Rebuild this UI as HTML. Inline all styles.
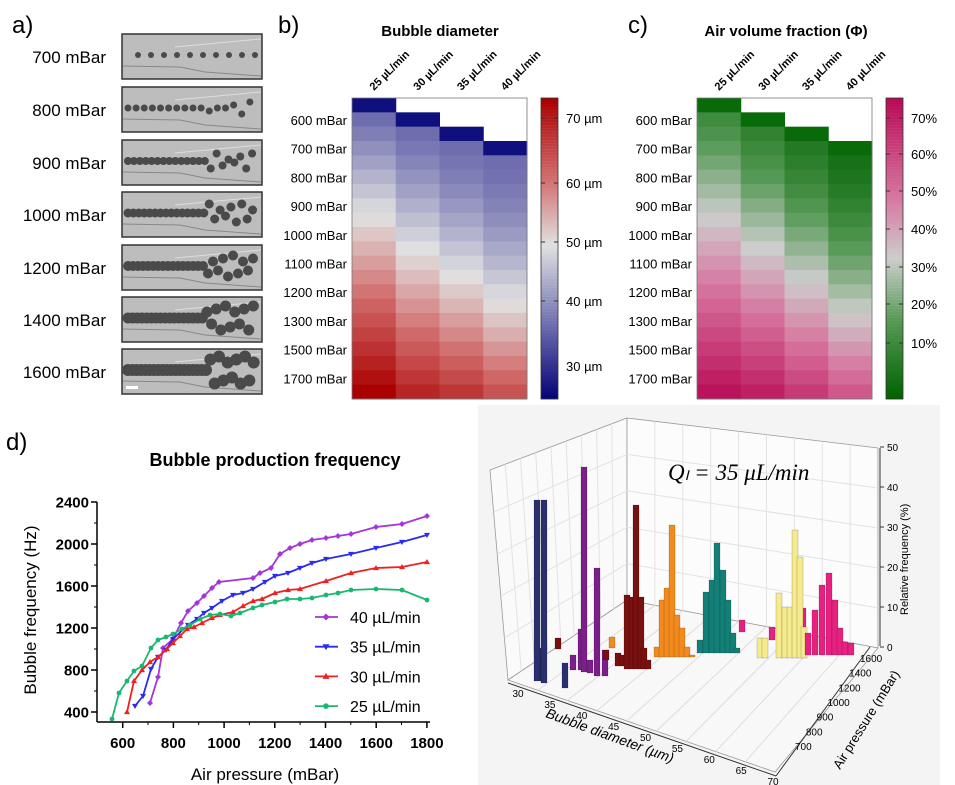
<!DOCTYPE html>
<html><head><meta charset="utf-8"><style>
html,body{margin:0;padding:0;background:#fff;}
svg{display:block;font-family:"Liberation Sans",sans-serif;}
</style></head><body>
<svg id="s" width="955" height="785" viewBox="0 0 955 785" xmlns="http://www.w3.org/2000/svg">
<rect width="955" height="785" fill="#fff"/>
<text x="12" y="33" font-size="24">a)</text>
<text x="278" y="33" font-size="24">b)</text>
<text x="628" y="33" font-size="24">c)</text>
<text x="6" y="450" font-size="24">d)</text>
<text x="484" y="446" font-size="24">e)</text>
<g id="pa"></g>
<g id="pb"></g>
<g id="pc"></g>
<g id="pd"></g>
<g id="pe"></g>
</svg>
<script>
const NS="http://www.w3.org/2000/svg";
function el(p,t,a,txt){const e=document.createElementNS(NS,t);for(const k in a)e.setAttribute(k,a[k]);if(txt!==undefined)e.textContent=txt;p.appendChild(e);return e;}
function lerp(a,b,t){return a+(b-a)*t;}
function grad(stops,v){
 if(v<=stops[0][0])return stops[0][1];
 for(let i=1;i<stops.length;i++){if(v<=stops[i][0]){const t=(v-stops[i-1][0])/(stops[i][0]-stops[i-1][0]);const a=stops[i-1][1],b=stops[i][1];return [0,1,2].map(j=>Math.round(lerp(a[j],b[j],t)));}}
 return stops[stops.length-1][1];}
function rgb(c){return `rgb(${c[0]},${c[1]},${c[2]})`;}
// Panel a
const pa=document.getElementById('pa');
const lab=["700 mBar","800 mBar","900 mBar","1000 mBar","1200 mBar","1400 mBar","1600 mBar"];
const ys=[34,87,140,192,245,297,349];
lab.forEach((l,i)=>{
 const y=ys[i];
 el(pa,'text',{x:106,y:y+29,'text-anchor':'end','font-size':17},l);
 el(pa,'rect',{x:122,y:y,width:140,height:45,fill:'#bdbdbd',stroke:'#333','stroke-width':1.5});
 el(pa,'path',{d:`M123 ${y+32} L180 ${y+33} L205 ${y+38} L261 ${y+42}`,stroke:'#888',fill:'none'});
 el(pa,'path',{d:`M175 ${y+13} L261 ${y+5}`,stroke:'#ddd',fill:'none'});
 const n=[10,16,22,24,26,28,30][i];
 for(let k=0;k<n;k++){
  const f=k/n; let x=128+k*(130/n)+ (i==0?10:0); let r=[3,3.5,4,4.5,5,5.5,6][i];
  let yy=y+21; if(f>0.6&&i>0){yy+= (k%2?-1:1)*(i+1)*1.5+((k%3)-1)*3;}
  if(x>259)continue;
  el(pa,'circle',{cx:x,cy:yy,r:r,fill:'#4a4a4a'});
 }
});
el(pa,'rect',{x:126,y:386,width:12,height:3,fill:'#fff'});
// Heatmaps
function heat(gid,x0,stops,vals,cbx,ticks,title,tx,cmin,cmax){
 const g=document.getElementById(gid);
 el(g,'text',{x:tx,y:36,'text-anchor':'middle','font-size':15,'font-weight':'bold'},title);
 const cw=43.75,rh=14.33,y0=98;
 for(let c=0;c<4;c++){for(let r=c;r<21;r++){
  const v=vals(c,r);
  el(g,'rect',{x:x0+c*cw,y:y0+r*rh,width:cw+0.5,height:rh+0.5,fill:rgb(grad(stops,v))});
 }}
 el(g,'rect',{x:x0,y:y0,width:4*cw,height:21*rh,fill:'none',stroke:'#777','stroke-width':0.8});
 ["25 µL/min","30 µL/min","35 µL/min","40 µL/min"].forEach((t,i)=>{
  const x=x0+22+i*cw, y=91;
  el(g,'text',{x:x,y:y,'font-size':11,'font-weight':'bold',transform:`rotate(-45 ${x} ${y})`},t);
 });
 ["600","700","800","900","1000","1100","1200","1300","1500","1700"].forEach((t,i)=>{
  el(g,'text',{x:x0-5,y:125+i*28.7,'text-anchor':'end','font-size':13},t+" mBar");
 });
 for(let i=0;i<100;i++){const v=cmax-(cmax-cmin)*i/99;el(g,'rect',{x:cbx,y:98+i*3.01,width:17,height:3.2,fill:rgb(grad(stops,v))});}
 el(g,'rect',{x:cbx,y:98,width:17,height:301,fill:'none',stroke:'#333','stroke-width':0.8});
 ticks.forEach(([t,y])=>{el(g,'line',{x1:cbx,x2:cbx+4,y1:y,y2:y,stroke:'#333'});el(g,'line',{x1:cbx+13,x2:cbx+17,y1:y,y2:y,stroke:'#333'});el(g,'text',{x:cbx+25,y:y+5,'font-size':13},t);});
}
const sB=[[27,[5,5,120]],[38,[110,110,175]],[50,[225,225,225]],[60,[210,110,110]],[72,[170,0,0]]];
heat('pb',352,sB,(c,r)=>{const b=[72,68,66,63][c];if(r==c)return 28;const s=38;return s+(b-s)*Math.pow((r-c-1)/(20-c-1),1.0+0.15*c);},541,
 [["70 µm",118],["60 µm",183],["50 µm",242],["40 µm",301],["30 µm",366]],"Bubble diameter",440,27,72);
const sC=[[0,[0,100,0]],[20,[90,155,90]],[35,[205,205,205]],[50,[215,120,160]],[75,[185,10,85]]];
heat('pc',697,sC,(c,r)=>{const b=[73,70,64,57][c];if(r==c)return 2;const s=14-c*3;return s+(b-s)*Math.pow((r-c-1)/(20-c-1),1.0+0.1*c);},886,
 [["70%",118],["60%",154],["50%",191],["40%",229],["30%",267],["20%",304],["10%",343]],"Air volume fraction (Φ)",786,0,75);
// Panel d
const pd=document.getElementById('pd');
el(pd,'text',{x:275,y:466,'text-anchor':'middle','font-size':18,'font-weight':'bold'},"Bubble production frequency");
el(pd,'line',{x1:97,x2:97,y1:502,y2:722,stroke:'#000','stroke-width':1.5});
el(pd,'line',{x1:97,x2:430,y1:722,y2:722,stroke:'#000','stroke-width':1.5});
[["2400",502],["2000",544],["1600",586],["1200",628],["800",670],["400",712]].forEach(([t,y],i)=>{
 el(pd,'line',{x1:91,x2:97,y1:y,y2:y,stroke:'#000','stroke-width':1.5});
 el(pd,'text',{x:89,y:y+5.5,'text-anchor':'end','font-size':15,'font-weight':'bold'},t);
 if(i<5)el(pd,'line',{x1:94,x2:97,y1:y+21,y2:y+21,stroke:'#000'});});
["600","800","1000","1200","1400","1600","1800"].forEach((t,i)=>{const x=122.7+i*50.7;
 el(pd,'line',{x1:x,x2:x,y1:722,y2:728,stroke:'#000','stroke-width':1.5});
 el(pd,'text',{x:x,y:748,'text-anchor':'middle','font-size':15,'font-weight':'bold'},t);
 if(i<6)el(pd,'line',{x1:x+25.3,x2:x+25.3,y1:722,y2:725,stroke:'#000'});});
el(pd,'text',{x:265,y:780,'text-anchor':'middle','font-size':17},"Air pressure (mBar)");
el(pd,'text',{x:36,y:610,'text-anchor':'middle','font-size':17,transform:'rotate(-90 36 610)'},"Bubble frequency (Hz)");
const series=[
 ['#a335d9','d',[[150,703],[158,677],[163,648],[173,639],[181,623],[188,611],[197,603],[204,596],[212,588],[219,582],[253,578],[260,573],[271,568],[280,554],[290,548],[300,544],[312,540],[326,538],[338,536],[351,534],[376,527],[402,524],[427,516]]],
 ['#2a2af0','v',[[135,706],[143,696],[151,669],[158,657],[166,650],[173,639],[188,625],[197,619],[204,613],[212,608],[222,601],[233,595],[243,593],[253,589],[265,582],[275,576],[288,573],[300,568],[312,563],[326,559],[351,554],[376,548],[402,542],[427,535]]],
 ['#f02020','^',[[127,712],[134,681],[142,670],[150,662],[158,657],[167,649],[173,643],[180,636],[187,629],[194,627],[202,623],[212,618],[220,615],[233,612],[243,606],[253,601],[262,599],[275,593],[288,590],[300,589],[326,581],[351,573],[376,568],[402,567],[427,562]]],
 ['#18b870','o',[[112,719],[119,693],[127,681],[134,671],[142,666],[151,648],[158,640],[166,637],[173,634],[182,629],[190,625],[200,619],[210,615],[220,614],[231,616],[240,613],[253,608],[262,605],[275,602],[287,599],[300,599],[312,598],[326,595],[338,593],[351,590],[376,589],[402,590],[427,600]]]];
function mark(g,c,m,x,y,s){
 if(m=='d')el(g,'path',{d:`M${x} ${y-s}L${x+s} ${y}L${x} ${y+s}L${x-s} ${y}Z`,fill:c});
 else if(m=='v')el(g,'path',{d:`M${x-s} ${y-s*.7}L${x+s} ${y-s*.7}L${x} ${y+s}Z`,fill:c});
 else if(m=='^')el(g,'path',{d:`M${x-s} ${y+s*.7}L${x+s} ${y+s*.7}L${x} ${y-s}Z`,fill:c});
 else el(g,'circle',{cx:x,cy:y,r:s*.8,fill:c});}
const legT=["40 µL/min","35 µL/min","30 µL/min","25 µL/min"];
series.forEach(([c,m,p],i)=>{
 el(pd,'polyline',{points:p.map(q=>q.join(',')).join(' '),fill:'none',stroke:c,'stroke-width':1.8});
 p.forEach(q=>mark(pd,c,m,q[0],q[1],3));
 const ly=617+i*29.7;
 el(pd,'line',{x1:315,x2:338,y1:ly,y2:ly,stroke:c,'stroke-width':1.8});mark(pd,c,m,326,ly,3.5);
 el(pd,'text',{x:350,y:ly+6,'font-size':16},legT[i]);
});
// Panel e
const pe=document.getElementById('pe');
el(pe,'rect',{x:478,y:405,width:462,height:380,fill:'#f4f4f4'});
el(pe,'polygon',{points:'490,470 627,418 627,600 508,680',fill:'#fafafa',stroke:'#999','stroke-width':0.8});
el(pe,'polygon',{points:'627,418 878,448 878,648 627,600',fill:'#fcfcfc',stroke:'#999','stroke-width':0.8});
el(pe,'polygon',{points:'508,680 627,600 878,648 775,772',fill:'#f8f8f8',stroke:'#999','stroke-width':0.8});
for(let i=1;i<9;i++){const t=i/9;
 el(pe,'line',{x1:lerp(508,775,t),y1:lerp(680,772,t),x2:lerp(627,878,t),y2:lerp(600,648,t),stroke:'#ddd'});
 el(pe,'line',{x1:lerp(627,878,t),y1:lerp(418,448,t),x2:lerp(627,878,t),y2:lerp(600,648,t),stroke:'#e2e2e2'});
 el(pe,'line',{x1:lerp(490,627,t),y1:lerp(470,418,t),x2:lerp(508,627,t),y2:lerp(680,600,t),stroke:'#e2e2e2'});}
for(let i=1;i<5;i++){const t=i/5;
 el(pe,'line',{x1:627,y1:lerp(600,418,t),x2:878,y2:lerp(648,448,t),stroke:'#e2e2e2'});
 el(pe,'line',{x1:lerp(508,490,t),y1:lerp(680,470,t),x2:627,y2:lerp(600,418,t),stroke:'#e2e2e2'});}
el(pe,'line',{x1:508,y1:683,x2:776,y2:776,stroke:'#333'});
el(pe,'line',{x1:776,y1:776,x2:870,y2:647,stroke:'#333'});
el(pe,'line',{x1:880,y1:448,x2:880,y2:646,stroke:'#333'});
["30","35","40","45","50","55","60","65","70"].forEach((t,i)=>{const x=lerp(518,773,i/8),y=lerp(697,785,i/8);
 el(pe,'text',{x:x,y:y,'text-anchor':'middle','font-size':10},t);});
el(pe,'text',{x:545,y:717,'font-size':14,'font-style':'italic',transform:'rotate(20 545 717)'},"Bubble diameter (µm)");
["700","800","900","1000","1200","1400","1600"].forEach((t,i)=>{const x=lerp(795,860,i/6),y=lerp(750,662,i/6);
 el(pe,'text',{x:x,y:y,'font-size':10},t);});
el(pe,'text',{x:840,y:770,'font-size':13,transform:'rotate(-58 840 770)'},"Air pressure (mBar)");
["0","10","20","30","40","50"].forEach((t,i)=>{const y=647-i*40;
 el(pe,'line',{x1:880,x2:884,y1:y,y2:y,stroke:'#333'});el(pe,'text',{x:887,y:y+4,'font-size':10},t);});
el(pe,'text',{x:908,y:615,'font-size':11,transform:'rotate(-90 908 615)'},"Relative frequency (%)");
el(pe,'text',{x:668,y:480,'font-size':23,'font-style':'italic','font-family':'"Liberation Serif",serif'},"Qₗ = 35 μL/min");
const bars=[
 ['#2a306e',[[540,648,678],[543,657,681],[537,500,681],[544,500,683],[565,663,688]]],
 ['#7b1f8a',[[573,655,670],[581,629,670],[584,467,672],[590,660,673],[597,568,676],[605,650,676]]],
 ['#7a1010',[[558,638,649],[606,650,660],[618,653,666],[623,655,666],[627,595,669],[632,597,669],[636,505,669],[641,597,669],[644,648,669],[648,660,669]]],
 ['#f28a1c',[[612,637,648],[657,647,657],[662,600,657],[667,588,657],[672,525,657],[677,615,657],[682,628,657],[687,647,657],[692,655,657]]],
 ['#138078',[[700,640,653],[706,592,653],[712,580,653],[717,543,653],[723,570,653],[728,600,653],[733,633,653],[737,648,653]]],
 ['#e8207f',[[742,620,632],[772,627,640],[803,608,640]]],
 ['#f5ea8c',[[760,638,658],[765,638,658],[779,593,658],[785,607,658],[790,607,658],[795,530,658],[800,557,658],[804,627,658]]],
 ['#e8207f',[[808,633,655],[815,610,655],[822,585,655],[829,573,655],[835,600,655],[840,628,655],[845,642,655],[851,643,655]]]];
bars.forEach(([c,bs])=>bs.forEach(([x,t,b])=>el(pe,'rect',{x:x-3,y:t,width:6,height:b-t,fill:c,stroke:'rgba(0,0,0,0.3)','stroke-width':0.5})));
</script>
</body></html>
